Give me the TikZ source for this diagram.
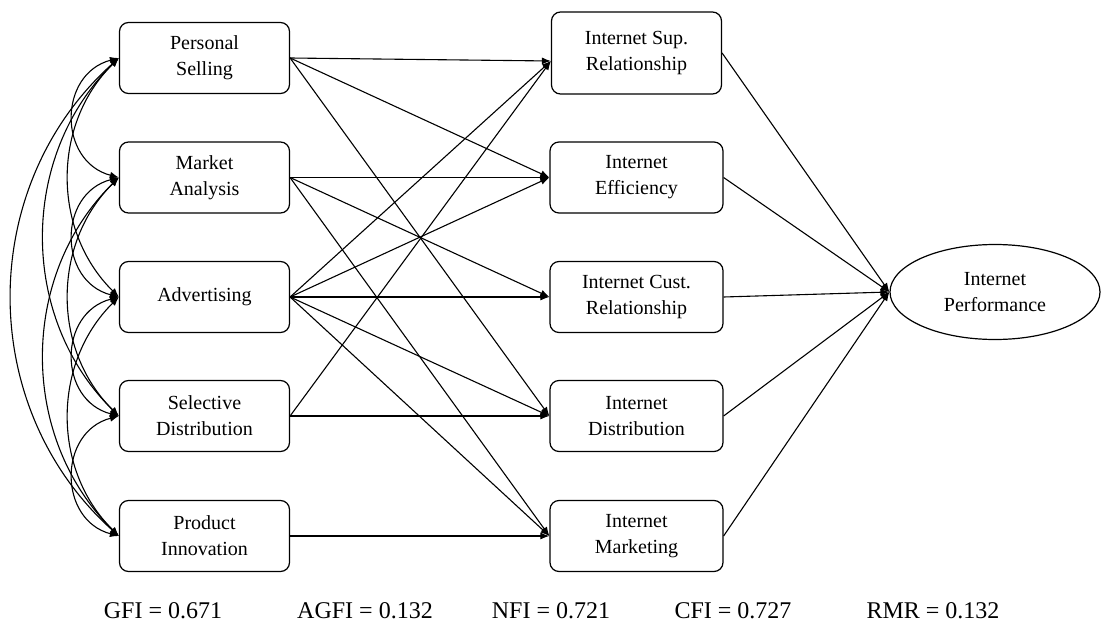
\documentclass[tikz,border=0pt]{standalone}
\usepackage{fontspec}
\setmainfont{Liberation Serif}
\usetikzlibrary{arrows.meta,shapes.geometric}
\begin{document}
\begin{tikzpicture}[x=1pt,y=-1pt,
  box/.style={draw,rounded corners=9pt,line width=1.2pt,minimum width=170pt,
    minimum height=71pt,align=center,inner sep=0pt,
    font=\fontsize{20}{26}\selectfont},
  latent/.style={draw,ellipse,line width=1.2pt,minimum width=210pt,
    minimum height=95pt,align=center,inner sep=0pt,
    font=\fontsize{20}{26}\selectfont},
  fit/.style={font=\fontsize{24}{28}\selectfont,inner sep=0pt},
  tip/.tip={Latex[length=9pt,width=7pt]},
  path/.style={-tip,line width=1.1pt},
  cov/.style={tip-tip,line width=1.1pt}]

\fill[white] (0,0) rectangle (1103,623);
\useasboundingbox (0,0) rectangle (1103,623);

% exogenous constructs
\node[box] (L1) at (204.5,58)  {Personal\\Selling};
\node[box] (L2) at (204.5,177.5) {Market\\Analysis};
\node[box] (L3) at (204.5,297) {Advertising};
\node[box] (L4) at (204.5,416) {Selective\\Distribution};
\node[box] (L5) at (204.5,536) {Product\\Innovation};

% internet constructs
\node[box,minimum height=82pt] (M1) at (636.5,53) {Internet Sup.\\Relationship};
\node[box,minimum width=173pt] (M2) at (636.5,177.5) {Internet\\Efficiency};
\node[box,minimum width=173pt] (M3) at (636.5,297) {Internet Cust.\\Relationship};
\node[box,minimum width=173pt] (M4) at (636.5,416) {Internet\\Distribution};
\node[box,minimum width=173pt] (M5) at (636.5,536) {Internet\\Marketing};
\coordinate (M1in) at ([yshift=-8pt]M1.west);

% outcome
\node[latent] (IP) at (995,292) {Internet\\Performance};

% covariances between exogenous constructs
\draw[cov] (L1.west) .. controls +(-61,16) and +(-61,-16) .. (L2.west);
\draw[cov] (L2.west) .. controls +(-61,16) and +(-61,-16) .. (L3.west);
\draw[cov] (L3.west) .. controls +(-61,16) and +(-61,-16) .. (L4.west);
\draw[cov] (L4.west) .. controls +(-61,16) and +(-61,-16) .. (L5.west);
\draw[cov] (L1.west) .. controls +(-67,66) and +(-67,-66) .. (L3.west);
\draw[cov] (L2.west) .. controls +(-67,66) and +(-67,-66) .. (L4.west);
\draw[cov] (L3.west) .. controls +(-67,66) and +(-67,-66) .. (L5.west);
\draw[cov] (L1.west) .. controls +(-100,98) and +(-100,-98) .. (L4.west);
\draw[cov] (L2.west) .. controls +(-100,98) and +(-100,-98) .. (L5.west);
\draw[cov] (L1.west) .. controls +(-143,128) and +(-143,-128) .. (L5.west);

% structural paths
\draw[path] (L1.east) -- (M1in);
\draw[path] (L1.east) -- (M2.west);
\draw[path] (L1.east) -- (M4.west);
\draw[path] (L2.east) -- (M2.west);
\draw[path] (L2.east) -- (M3.west);
\draw[path] (L2.east) -- (M5.west);
\draw[path] (L3.east) -- (M1in);
\draw[path] (L3.east) -- (M2.west);
\draw[path] (L3.east) -- (M3.west);
\draw[path] (L3.east) -- (M4.west);
\draw[path] (L3.east) -- (M5.west);
\draw[path] (L4.east) -- (M1in);
\draw[path] (L4.east) -- (M4.west);
\draw[path] (L5.east) -- (M5.west);

\foreach \m in {M1,M2,M3,M4,M5}
  \draw[path] (\m.east) -- (IP.west);

% fit indices
\node[fit] (gfi)  at (163,611) {GFI = 0.671};
\node[fit] (agfi) at (365,611) {AGFI = 0.132};
\node[fit] (nfi)  at (551,611) {NFI = 0.721};
\node[fit] (cfi)  at (733,611) {CFI = 0.727};
\node[fit] (rmr)  at (933,611) {RMR = 0.132};
\end{tikzpicture}
\end{document}
